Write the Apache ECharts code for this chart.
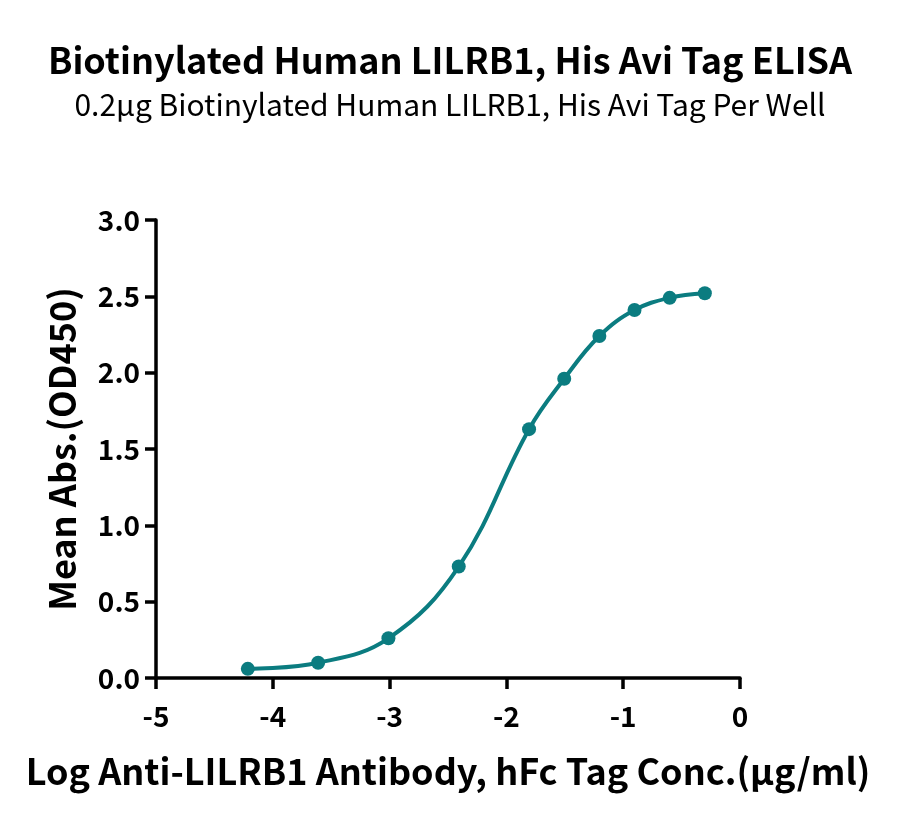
<!DOCTYPE html>
<html>
<head>
<meta charset="utf-8">
<script src="https://cdn.jsdelivr.net/npm/echarts@6/dist/echarts.min.js"></script>
<style>
  html, body { margin: 0; padding: 0; background: #fff; }
  #chart { width: 900px; height: 829px; }
</style>
</head>
<body>
<div id="chart"></div>
<script>
// log concentration (µg/ml) and mean OD450
const logConc = [-4.214, -3.612, -3.010, -2.408, -1.806, -1.505, -1.204, -0.903, -0.602, -0.301];
const meanAbs = [0.06, 0.10, 0.26, 0.73, 1.63, 1.96, 2.24, 2.41, 2.49, 2.52];

const fontFamily = '"Noto Sans CJK SC", "Noto Sans", sans-serif';
const teal = '#0b7c80';

const chart = echarts.init(document.getElementById('chart'));

chart.setOption({
    animation: false,
    title: [{
        text: 'Biotinylated Human LILRB1, His Avi Tag ELISA',
        left: 'center',
        top: 37,
        textStyle: { fontFamily, fontSize: 36, fontWeight: 'bold', color: '#000' }
    }, {
        text: '0.2µg Biotinylated Human LILRB1, His Avi Tag Per Well',
        left: 'center',
        top: 85,
        textStyle: { fontFamily, fontSize: 30, fontWeight: 'normal', color: '#000' }
    }],
    grid: {
        left: 156,
        right: 160,
        top: 220,
        bottom: 151
    },
    xAxis: {
        type: 'value',
        min: -5,
        max: 0,
        interval: 1,
        name: 'Log Anti-LILRB1 Antibody, hFc Tag Conc.(µg/ml)',
        nameLocation: 'middle',
        nameGap: 75,
        nameTextStyle: { fontFamily, fontSize: 36, fontWeight: 'bold', color: '#000' },
        axisLine: { onZero: false, lineStyle: { color: '#000', width: 3.5 } },
        axisTick: { show: true, length: 11, lineStyle: { color: '#000', width: 3.5 } },
        axisLabel: { margin: 24, fontFamily, fontSize: 28, fontWeight: 'bold', color: '#000' },
        splitLine: { show: false }
    },
    yAxis: {
        type: 'value',
        min: 0,
        max: 3,
        interval: 0.5,
        name: 'Mean Abs.(OD450)',
        nameLocation: 'middle',
        nameGap: 76,
        nameTextStyle: { fontFamily, fontSize: 36, fontWeight: 'bold', color: '#000' },
        axisLine: { show: true, onZero: false, lineStyle: { color: '#000', width: 3.5 } },
        axisTick: { show: true, length: 11, lineStyle: { color: '#000', width: 3.5 } },
        axisLabel: {
            margin: 16,
            fontFamily, fontSize: 28, fontWeight: 'bold', color: '#000',
            formatter: v => v.toFixed(1)
        },
        splitLine: { show: false }
    },
    series: [{
        type: 'line',
        data: logConc.map((x, i) => [x, meanAbs[i]]),
        smooth: 0.4,
        symbol: 'circle',
        symbolSize: 14,
        lineStyle: { color: teal, width: 4 },
        itemStyle: { color: teal }
    }]
});
</script>
</body>
</html>
